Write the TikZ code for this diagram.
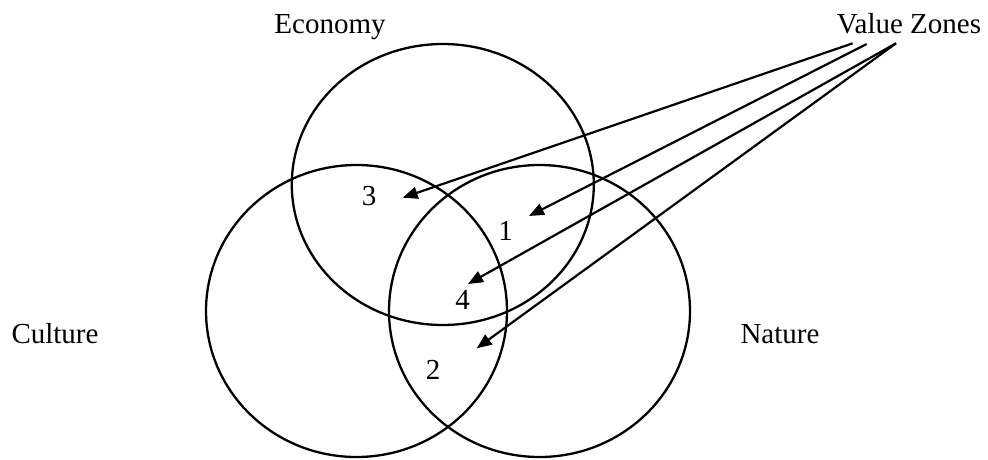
\documentclass[tikz,border=0pt]{standalone}
\usepackage{fontspec}
\setmainfont{Liberation Serif}
\usetikzlibrary{arrows.meta,shapes.geometric}
\tikzset{
  zone/.style={draw, ellipse, line width=2.3pt, inner sep=0pt, outer sep=0pt},
  lbl/.style={font=\fontsize{29}{32}\selectfont, inner sep=0pt, anchor=base},
  pointer/.style={line width=2.2pt, -{Triangle[length=15pt,width=12pt]}}
}
\begin{document}
\begin{tikzpicture}[x=1pt,y=-1pt]
\useasboundingbox (0,0) rectangle (988,459);
% circles
\node[zone, minimum width=302pt, minimum height=281pt] (eco) at (442.8,184.5) {};
\node[zone, minimum width=301pt, minimum height=292pt] (cul) at (356.5,311) {};
\node[zone, minimum width=301pt, minimum height=292pt] (nat) at (539.5,311) {};
% labels
\node[lbl] (teco) at (330,33) {Economy};
\node[lbl] (tval) at (909,33) {Value Zones};
\node[lbl] (tcul) at (55,343) {Culture};
\node[lbl] (tnat) at (780,343) {Nature};
\node[lbl] (n3) at (369,205) {3};
\node[lbl] (n1) at (505.7,240.7) {1};
\node[lbl] (n4) at (462.7,309) {4};
\node[lbl] (n2) at (433,379) {2};
% arrow ends
\coordinate (s3) at (852.7,43.3);
\coordinate (s1) at (866.7,44);
\coordinate (s4) at (896,43.3);
\coordinate (t3) at (402.7,197.7);
\coordinate (t1) at (529,216);
\coordinate (t4) at (468,284);
\coordinate (t2) at (476.7,348.3);
\draw[pointer] (s3) -- (t3);
\draw[pointer] (s1) -- (t1);
\draw[pointer] (s4) -- (t4);
\draw[pointer] (s4) -- (t2);
\end{tikzpicture}
\end{document}
